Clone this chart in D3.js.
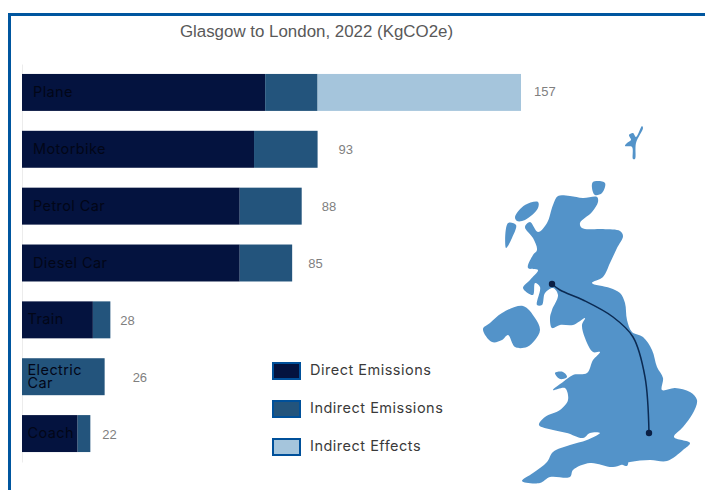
<!DOCTYPE html>
<html>
<head>
<meta charset="utf-8">
<script src="https://cdn.jsdelivr.net/npm/d3@7"></script>
<style>
    html, body { margin: 0; padding: 0; background: #fff; }
    svg { display: block; }
</style>
</head>
<body>
<svg id="chart" width="705" height="490"></svg>
<script>
// Chart values (KgCO2e)
const categories = ["Plane", "Motorbike", "Petrol Car", "Diesel Car", "Train", "Electric Car", "Coach"];
const directEmissions = [76.5, 73, 68.5, 68.5, 22.3, 0, 17.5];
const indirectEmissions = [16.5, 20, 19.5, 16.5, 5.5, 26, 4];
const indirectEffects = [64, 0, 0, 0, 0, 0, 0];
const totals = [157, 93, 88, 85, 28, 26, 22];
const seriesNames = ["Direct Emissions", "Indirect Emissions", "Indirect Effects"];

// Gap between bar end and total label, it is uneven in the original
const labelGaps = [13, 21, 20, 16, 10, 28, 12];

const colors = ["#04133f", "#23547c", "#a5c5dc"];
const frameBlue = "#00569f";
const mapBlue = "#5393c9";

// Map outlines, traced in page pixels
const greatBritain = [[558,196],[570,196],[583,198],[597,197],[598,202],[592,212],[580,223],[582,228],[603,229],[620,231],[623,236],[617,248],[610,263],[603,277],[592,283],[610,288],[620,293],[625,303],[627,320],[632,332],[643,337],[652,350],[657,367],[663,378],[662,390],[675,388],[690,392],[697,400],[693,413],[683,427],[674,437],[690,443],[683,450],[667,461],[650,460],[630,462],[613,467],[590,463],[573,470],[570,477],[550,477],[540,483],[522,481],[533,473],[547,462],[553,452],[570,445],[587,440],[600,433],[590,433],[583,438],[567,433],[553,430],[539,425],[545,417],[560,410],[568,400],[565,388],[553,390],[563,382],[573,375],[587,373],[593,360],[600,352],[593,352],[585,338],[582,325],[585,318],[573,325],[560,325],[552,328],[550,318],[552,310],[558,295],[553,288],[545,293],[542,305],[537,305],[540,287],[535,283],[533,295],[523,288],[530,280],[538,270],[528,268],[533,255],[537,250],[533,238],[525,227],[530,222],[538,232],[547,223],[553,205]];
const northernIreland = [[483,329],[490,323],[502,313],[523,306],[535,318],[540,330],[535,340],[527,347],[515,347],[508,335],[502,340],[492,342]];
const anglesey = [[555,373],[563,372],[567,377],[560,379]];
const isleOfWight = [[620,463],[628,462],[627,466]];
const lewis = [[515,217],[525,205],[538,202],[538,208],[525,220],[517,221]];
const uist = [[508,223],[516,225],[512,238],[506,248]];
const orkney = [[593,182],[605,183],[602,193],[595,195],[592,188]];
const shetland = [[642,126],[643,128],[636,143],[635,159],[633,159],[632,147],[625,146],[627,143],[631,140],[629,135],[633,133],[636,137]];
const route = [[552,284],[560,290],[583,300],[613,317],[633,337],[645,377],[649,433]];

const svg = d3.select("#chart");

// White page with the blue frame along top and left
svg.append("path")
    .attr("d", "M9.5,490V14.5H705")
    .attr("fill", "none")
    .attr("stroke", frameBlue)
    .attr("stroke-width", 3);

// Title
svg.append("text")
    .attr("x", 316.5)
    .attr("y", 36.5)
    .attr("text-anchor", "middle")
    .attr("font-family", "Liberation Sans")
    .attr("font-size", 16.9)
    .attr("fill", "#595959")
    .text("Glasgow to London, 2022 (KgCO2e)");

// Scales
const xScale = d3.scaleLinear().domain([0, 157]).range([22, 521]);
const yScale = d3.scaleBand()
    .domain(categories)
    .range([64, 462])
    .paddingInner(0.35)
    .paddingOuter(0.175);

// Faint category axis, labels are drawn over the bars
const yAxis = svg.append("g")
    .attr("transform", `translate(${xScale(0)}, 0)`)
    .call(d3.axisLeft(yScale).tickSize(0).tickFormat(""));
yAxis.select(".domain").attr("stroke", "#ececec");

// Stacked bars
const rows = categories.map((c, i) => ({
    category: c,
    [seriesNames[0]]: directEmissions[i],
    [seriesNames[1]]: indirectEmissions[i],
    [seriesNames[2]]: indirectEffects[i]
}));
const stacked = d3.stack().keys(seriesNames)(rows);

svg.append("g")
    .selectAll("g")
    .data(stacked)
    .join("g")
    .attr("fill", (d, i) => colors[i])
    .selectAll("rect")
    .data(d => d)
    .join("rect")
    .attr("x", d => xScale(d[0]))
    .attr("y", d => yScale(d.data.category))
    .attr("width", d => xScale(d[1]) - xScale(d[0]))
    .attr("height", yScale.bandwidth());

// Category labels inside the bars, the short bars have them closer to the axis
categories.forEach((c, i) => {
    const words = c === "Electric Car" ? ["Electric", "Car"] : [c];
    const inset = totals[i] < 50 ? 5.5 : 11;
    const mid = yScale(c) + yScale.bandwidth() / 2;
    const label = svg.append("text")
        .attr("font-family", "Inter")
        .attr("font-size", 14.5)
        .attr("letter-spacing", 0.4)
        .attr("fill", "#020617");
    words.forEach((w, j) => {
        label.append("tspan")
            .attr("x", xScale(0) + inset)
            .attr("y", mid + 4.5 + (j - (words.length - 1) / 2) * 13)
            .text(w);
    });
});

// Total labels, placed from the drawn bar end
svg.append("g")
    .selectAll("text")
    .data(totals)
    .join("text")
    .attr("x", (d, i) => xScale(directEmissions[i] + indirectEmissions[i] + indirectEffects[i]) + labelGaps[i])
    .attr("y", (d, i) => yScale(categories[i]) + yScale.bandwidth() / 2 + (i === 0 ? 3.5 : 5))
    .attr("font-family", "Liberation Sans")
    .attr("font-size", 13)
    .attr("fill", "#7f7f7f")
    .text(d => d);

// Legend
const legend = svg.append("g")
    .selectAll("g")
    .data(seriesNames)
    .join("g")
    .attr("transform", (d, i) => `translate(273, ${363 + i * 38})`);

legend.append("rect")
    .attr("width", 27)
    .attr("height", 16)
    .attr("fill", (d, i) => colors[i])
    .attr("stroke", "#00509a")
    .attr("stroke-width", 2);

legend.append("text")
    .attr("x", 37)
    .attr("y", 12)
    .attr("font-family", "Inter")
    .attr("font-size", 14.5)
    .attr("letter-spacing", 0.5)
    .attr("fill", "#3a3a3a")
    .text(d => d);

// UK map
const shape = d3.line().curve(d3.curveCatmullRomClosed.alpha(0.5));
svg.append("g")
    .selectAll("path")
    .data([greatBritain, northernIreland, anglesey, isleOfWight, lewis, uist, orkney, shetland])
    .join("path")
    .attr("d", shape)
    .attr("fill", mapBlue);

// Route from Glasgow to London
svg.append("path")
    .attr("d", d3.line().curve(d3.curveCatmullRom.alpha(0.5))(route))
    .attr("fill", "none")
    .attr("stroke", "#0b2a52")
    .attr("stroke-width", 1.5);

svg.append("g")
    .selectAll("circle")
    .data([route[0], route[route.length - 1]])
    .join("circle")
    .attr("cx", d => d[0])
    .attr("cy", d => d[1])
    .attr("r", 3.2)
    .attr("fill", "#0a1f44");
</script>
</body>
</html>
